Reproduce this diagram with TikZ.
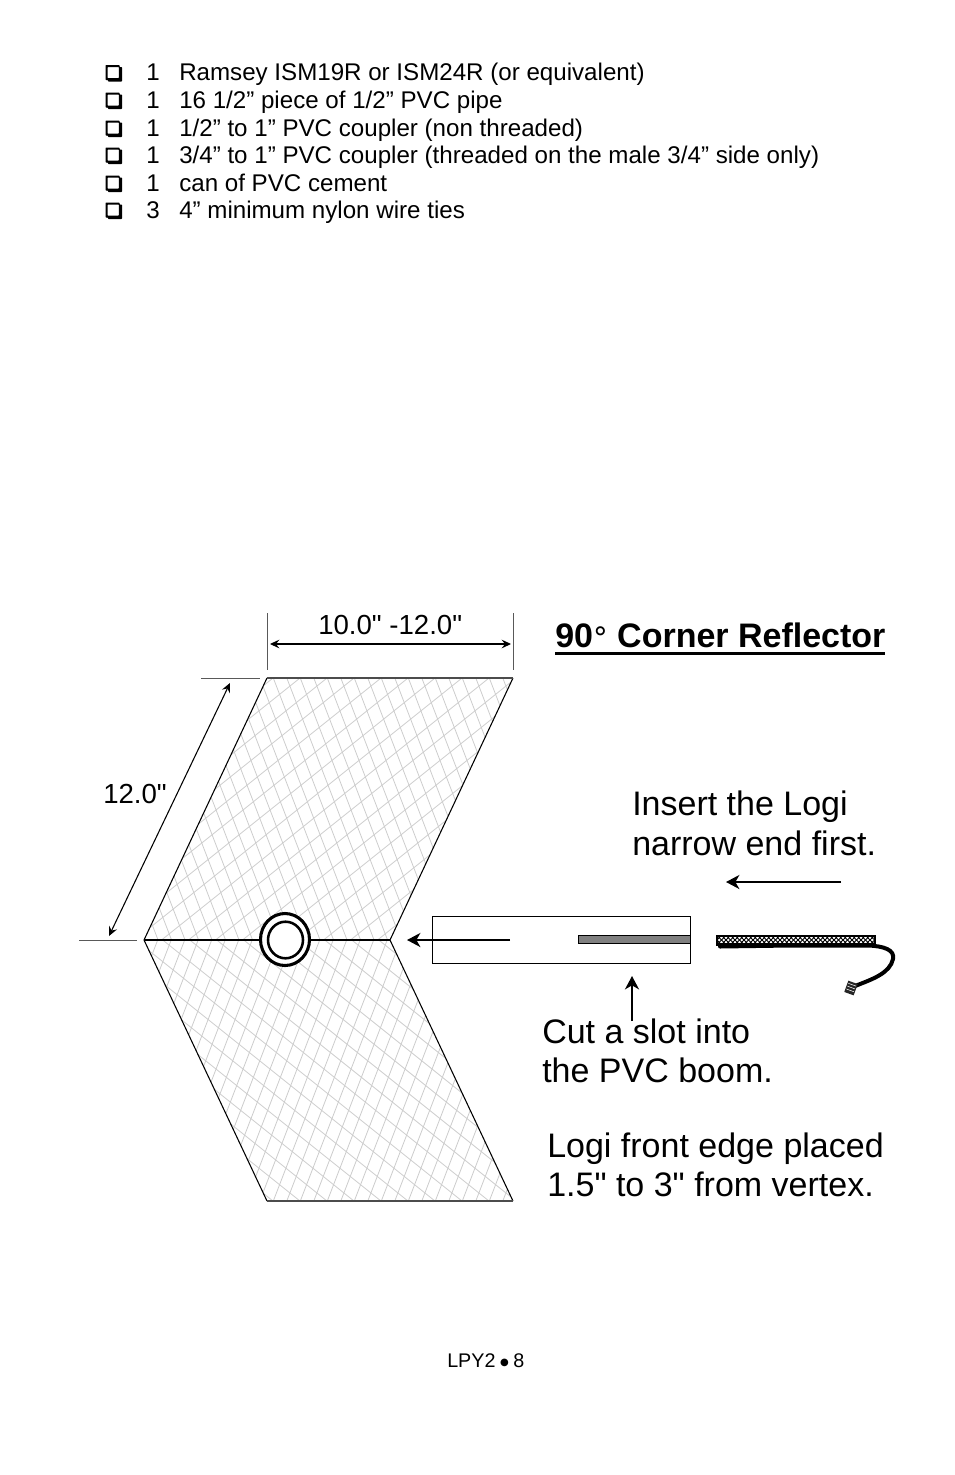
\documentclass[tikz,border=0pt]{standalone}
\usepackage{fontspec}
\setmainfont{Liberation Sans}
\newfontfamily\plainfont{Liberation Sans}
\usetikzlibrary{arrows.meta}
\newfontfamily\djv{DejaVu Sans}
\definecolor{meshgray}{gray}{0.8}
\definecolor{slotgray}{gray}{0.5}
\tikzset{
  x=0.75pt,y=-0.75pt,
  listtext/.style={anchor=base west,inner sep=0,font=\fontsize{18.1}{20}\selectfont},
  bigtext/.style={anchor=base west,inner sep=0,align=left,font=\plainfont\fontsize{25.5}{29.3}\selectfont},
  dimtext/.style={anchor=base west,inner sep=0,font=\plainfont\fontsize{20.7}{22}\selectfont},
  thinarrow/.style={line width=0.8pt,{Stealth[length=7pt,width=6.5pt,inset=2.5pt]}-{Stealth[length=7pt,width=6.5pt,inset=2.5pt]}},
  boldarrow/.style={line width=2pt,-{Stealth[length=10pt,width=10.5pt,inset=3pt]}},
  ext/.style={line width=0.7pt,draw=black!65},
  edge/.style={line width=0.8pt},
  mesh/.style={line width=0.6pt,draw=meshgray}
}
\newcommand{\listrow}[3]{%
  \fill[black,even odd rule,rounded corners=0.4pt] (105.5,#1-15.5) -- (119.5,#1-15.5) -- (119.5,#1-13.5) -- (122,#1-13.5) -- (122,#1+1) -- (108,#1+1) -- (108,#1-0.5) -- (105.5,#1-0.5) -- cycle
     (107.5,#1-13.5) rectangle (118.8,#1-2.3);
  \node[listtext] at (146,#1) {#2};
  \node[listtext] at (179,#1) {#3};
}
\begin{document}
\begin{tikzpicture}
\useasboundingbox (0,0) rectangle (954,1475);
\listrow{80.5}{1}{Ramsey ISM19R or ISM24R (or equivalent)}
\listrow{108}{1}{16 1/2” piece of 1/2” PVC pipe}
\listrow{136}{1}{1/2” to 1” PVC coupler (non threaded)}
\listrow{163}{1}{3/4” to 1” PVC coupler (threaded on the male 3/4” side only)}
\listrow{191}{1}{can of PVC cement}
\listrow{218}{3}{4” minimum nylon wire ties}
% mesh
\coordinate (ul) at (144,940);
\coordinate (ut) at (267,678);
\coordinate (ur) at (513,678);
\coordinate (uv) at (390,940);
\coordinate (lb) at (267,1201);
\coordinate (lr) at (513,1201);
\begin{scope}
\clip (ul)--(ut)--(ur)--(uv)--cycle;
\foreach \k in {-30,...,30}{
  \draw[mesh] (273.3+13.5*\k,678)--++(150,390);
}
\foreach \k in {-5,...,30}{
  \draw[mesh] (300+27*\k,678)--++(-500,400);
}
\end{scope}
\begin{scope}
\clip (ul)--(lb)--(lr)--(uv)--cycle;
\foreach \k in {-30,...,30}{
  \draw[mesh] (273.3+13.5*\k,1201)--++(150,-390);
}
\foreach \k in {-5,...,30}{
  \draw[mesh] (300+27*\k,1201)--++(-500,-400);
}
\end{scope}
\draw[edge] (ut)--(ul)--(lb);
\draw[edge] (ur)--(uv)--(lr);
\draw[line width=0.9pt,draw=black!70] (ut)--(ur);
\draw[line width=0.9pt,draw=black!70] (lb)--(lr);
\draw[edge] (ul)--(uv);
% pipe
\draw[line width=2.3pt,fill=white] (285,939.5) ellipse [x radius=24.5,y radius=26];
\draw[line width=1.9pt,fill=white] (285.5,940) ellipse [x radius=17.5,y radius=18.3];
% dimensions
\coordinate (d1t) at (267,613); \coordinate (d1b) at (267,670);
\coordinate (d2t) at (513,613); \coordinate (d2b) at (513,670);
\draw[ext] (d1t)--(d1b);
\draw[ext] (d2t)--(d2b);
\coordinate (a1) at (270,644); \coordinate (a2) at (511,644);
\draw[thinarrow] (a1)--(a2);
\node[dimtext] (w) at (318,634) {10.0" -12.0"};
\coordinate (e1) at (201,678); \coordinate (e2) at (260,678);
\coordinate (e3) at (79,940); \coordinate (e4) at (137,940);
\draw[ext] (e1)--(e2);
\draw[ext] (e3)--(e4);
\coordinate (b1) at (230,683); \coordinate (b2) at (109,936);
\draw[thinarrow] (b1)--(b2);
\node[dimtext] (h) at (103,803) {12.0"};
% heading
\node[anchor=base west,inner sep=0,font=\bfseries\fontsize{25.5}{30}\selectfont] (title) at (555,647) {90\raisebox{-1.2pt}{\djv\mdseries\fontsize{22}{24}\selectfont\char"00B0} Corner Reflector};
\draw[line width=1.8pt] (555,653.5)--(885,653.5);
% labels
\node[bigtext] (t1) at (632,855) {Insert the Logi\\narrow end first.};
\node[bigtext] (t2) at (542,1082.5) {Cut a slot into\\the PVC boom.};
\node[bigtext] (t3) at (547,1196.5) {Logi front edge placed\\1.5" to 3" from vertex.};
% boom
\node[draw,line width=0.8pt,inner sep=0,anchor=north west,minimum width=193.5pt,minimum height=35pt] (boom) at (432,916) {};
\draw[line width=0.5pt,fill=slotgray] (578.5,935.5) rectangle (690.5,943.5);
\coordinate (ba1) at (510,940); \coordinate (ba2) at (407,940);
\draw[boldarrow] (ba1)--(ba2);
\coordinate (ba3) at (632,1021); \coordinate (ba4) at (632,976);
\draw[boldarrow] (ba3)--(ba4);
\coordinate (ba5) at (841,882); \coordinate (ba6) at (726,882);
\draw[boldarrow] (ba5)--(ba6);
% logi antenna
\fill[black] (716,934.5) rectangle (875.5,945.5);
\begin{scope}
\clip (718,937) rectangle (873.5,943);
\fill[white] (718,937) rectangle (873.5,943);
\foreach \k in {0,...,36}{
  \draw[black,line width=0.7pt] (714+4.5*\k,937)--(720+4.5*\k,943);
  \draw[black,line width=0.7pt] (720+4.5*\k,937)--(714+4.5*\k,943);
}
\end{scope}
\draw[line width=3pt,line cap=round] (720,946.5)--(790,945.5)--(868,945.5) .. controls (884,946) and (895,950) .. (893,959) .. controls (890,973) and (873,979) .. (855,986);
\begin{scope}[rotate around={-20:(851,988)}]
\fill[black!85] (846,982) rectangle (856,994);
\foreach \r in {984.5,987.5,990.5}{
  \draw[white,line width=0.4pt] (847,\r)--(855,\r);
}
\end{scope}
% footer
\node[anchor=base west,inner sep=0,font=\fontsize{14.8}{18}\selectfont] (foot) at (447,1367) {LPY2 \hspace{-0.7pt}\raisebox{1.5pt}{\djv\fontsize{7.5}{9}\selectfont ●}\hspace{-0.7pt} 8};
\end{tikzpicture}
\end{document}
